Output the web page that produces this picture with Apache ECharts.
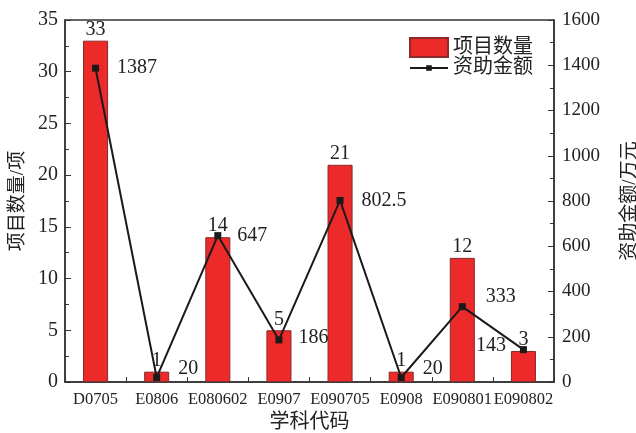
<!DOCTYPE html>
<html><head><meta charset="utf-8">
<script src="https://cdn.jsdelivr.net/npm/echarts@6/dist/echarts.min.js"></script>
<style>html,body{margin:0;padding:0;background:#fff}#c{width:636px;height:433px}</style>
</head><body><div id="c"></div>
<script>
const categories = ['D0705','E0806','E080602','E0907','E090705','E0908','E090801','E090802'];
const projectCounts = [33,1,14,5,21,1,12,3];
const funding = [1387,20,647,186,802.5,20,333,143];

// label placement tweaks (style only)
const fundingLabelStyle = [
  {position:'right', offset:[2,0]},
  {position:'right', offset:[2,-9]},
  {position:'right', offset:[0,0]},
  {position:'right', offset:[0,-2]},
  {position:'right', offset:[2,0]},
  {position:'right', offset:[2,-9]},
  {position:'right', offset:[4,-10]},
  {position:'left', offset:[2,-4]}
];

const F = '"Liberation Serif","Times New Roman","Noto Sans CJK SC",serif';
const chart = echarts.init(document.getElementById('c'), null, {renderer:'canvas'});
const axisLine = {show:true, lineStyle:{color:'#333', width:1.5}};
chart.setOption({
  animation:false,
  textStyle:{fontFamily:F},
  grid:{left:65, right:82, top:20, bottom:51, show:true, borderColor:'#333', borderWidth:1.5,
        containLabel:false, outerBoundsMode:'none'},
  legend:[{
    right:98, top:32, itemWidth:38, itemHeight:19,
    textStyle:{fontFamily:F, fontSize:20, color:'#222'},
    data:[{name:'项目数量', icon:'rect'}]
  },{
    right:98, top:53, itemWidth:38, itemHeight:7,
    textStyle:{fontFamily:F, fontSize:20, color:'#222'},
    data:[{name:'资助金额'}]
  }],
  xAxis:[{
    type:'category', data:categories, position:'bottom',
    axisLine:axisLine,
    axisTick:{show:true, inside:true, length:5, alignWithLabel:true, lineStyle:{color:'#333'}},
    axisLabel:{fontFamily:F, fontSize:16.5, color:'#222', margin:9, interval:0, hideOverlap:false},
    name:'学科代码', nameLocation:'middle', nameGap:31,
    nameTextStyle:{fontFamily:F, fontSize:20, color:'#222'}
  },{
    type:'category', data:categories, position:'bottom',
    axisLine:{show:false},
    axisTick:{show:true, inside:true, length:5, lineStyle:{color:'#333'}},
    axisLabel:{show:false}
  }],
  yAxis:[{
    type:'value', min:0, max:35, interval:5,
    axisLine:axisLine, axisTick:{show:true, inside:true, length:6},
    minorTick:{show:true, splitNumber:2, length:4, lineStyle:{color:'#333'}},
    splitLine:{show:false},
    axisLabel:{fontFamily:F, fontSize:20, color:'#222', margin:7},
    name:'项目数量/项', nameLocation:'middle', nameGap:29, nameRotate:90,
    nameTextStyle:{fontFamily:F, fontSize:19, color:'#222'}
  },{
    type:'value', min:0, max:1600, interval:200,
    axisLine:axisLine, axisTick:{show:true, inside:true, length:6},
    minorTick:{show:true, splitNumber:2, length:4, lineStyle:{color:'#333'}},
    splitLine:{show:false},
    axisLabel:{fontFamily:F, fontSize:19, color:'#222', margin:8, formatter:v=>String(v)},
    name:'资助金额/万元', nameLocation:'middle', nameGap:67, nameRotate:90,
    nameTextStyle:{fontFamily:F, fontSize:19, color:'#222'}
  }],
  series:[{
    name:'项目数量', type:'bar', data:projectCounts, barWidth:'41%',
    itemStyle:{color:'#ec2a2a', borderColor:'#8a2a2a', borderWidth:1},
    label:{show:true, position:'top', distance:1, fontFamily:F, fontSize:20, color:'#222'}
  },{
    name:'资助金额', type:'line', yAxisIndex:1,
    data:funding.map((v,i)=>({value:v, label:fundingLabelStyle[i]})),
    symbol:'rect', symbolSize:7, itemStyle:{color:'#1a1a1a'},
    lineStyle:{color:'#1a1a1a', width:2},
    label:{show:true, distance:16, fontFamily:F, fontSize:20, color:'#222'}
  }]
});
</script></body></html>
